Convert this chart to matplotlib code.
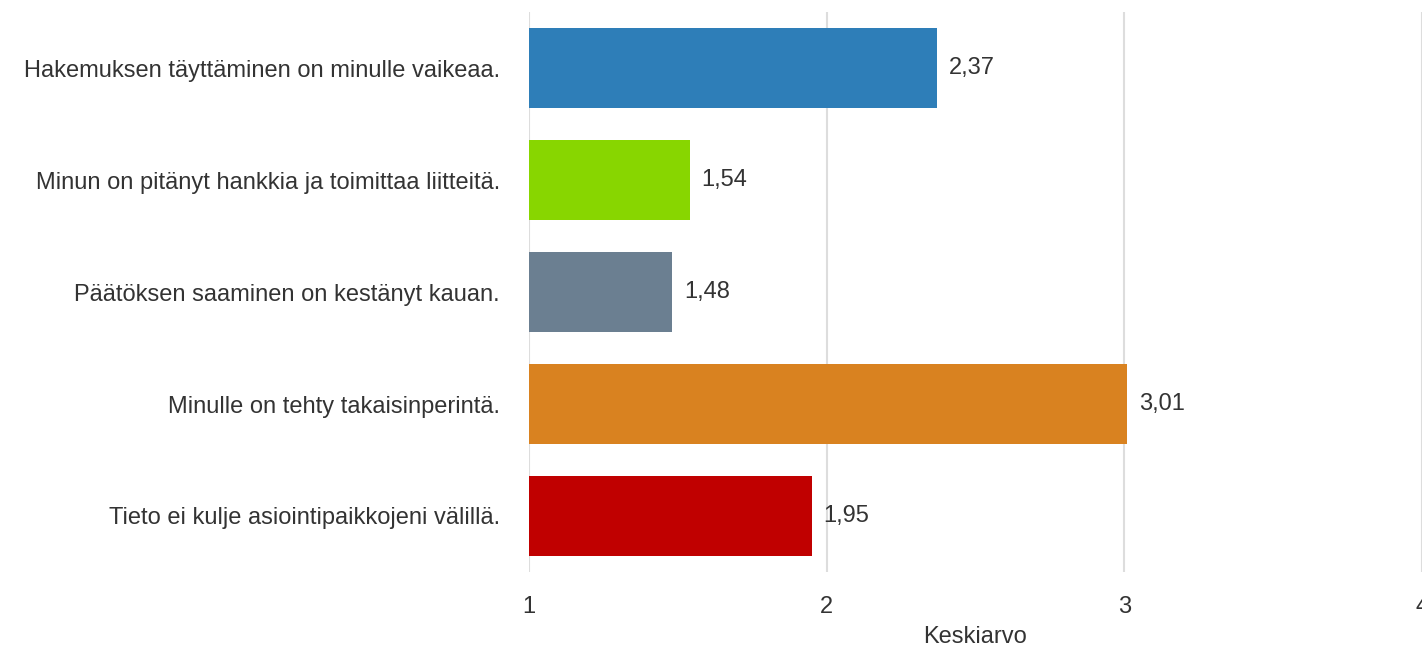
import matplotlib
matplotlib.use("Agg")
import matplotlib.pyplot as plt

plt.rcParams["font.family"] = ["Liberation Sans", "DejaVu Sans"]

categories = [
    "Hakemuksen täyttäminen on minulle vaikeaa.",
    "Minun on pitänyt hankkia ja toimittaa liitteitä.",
    "Päätöksen saaminen on kestänyt kauan.",
    "Minulle on tehty takaisinperintä.",
    "Tieto ei kulje asiointipaikkojeni välillä.",
]
values = [2.37, 1.54, 1.48, 3.01, 1.95]
colors = ["#2E7EB8", "#88D600", "#6B7F91", "#D98220", "#C00000"]
x_ticks = [1, 2, 3, 4]

fig = plt.figure(figsize=(14.22, 6.47), dpi=100)
ax = fig.add_axes([0.372, 0.116, 0.628, 0.865])

pos = list(range(len(categories)))
ax.barh(pos, [v - 1 for v in values], left=1, height=0.714, color=colors, zorder=3)
for p, v in zip(pos, values):
    ax.text(v + 0.04, p, f"{v:.2f}".replace(".", ","), va="center", ha="left",
            fontsize=17, color="#333333")

ax.set_xlim(1, 4)
ax.set_ylim(len(categories) - 0.5, -0.5)
ax.set_xticks(x_ticks)
ax.set_yticks(pos)
ax.set_yticklabels(categories)
ax.tick_params(axis="both", length=0, labelsize=17, labelcolor="#333333")
ax.tick_params(axis="y", pad=21)
ax.tick_params(axis="x", pad=17)
ax.grid(axis="x", color="#DDDDDD", linewidth=1.5, zorder=0)
for s in ax.spines.values():
    s.set_visible(False)
ax.set_xlabel("Keskiarvo", fontsize=17, color="#333333", labelpad=6)

fig.savefig("out.png", dpi=100)
